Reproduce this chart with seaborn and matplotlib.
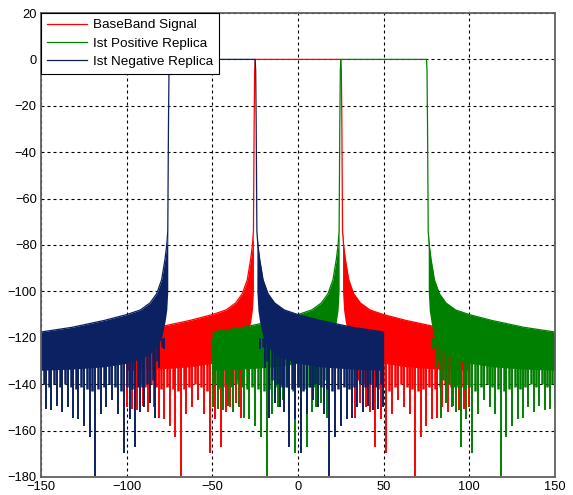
import numpy as np
import matplotlib
matplotlib.use("Agg")
import matplotlib.pyplot as plt
import seaborn as sns

# one-sided baseband spectrum (offset from band centre, dB)
offset = [25.0, 25.3, 25.6, 26.0, 26.6, 27.6, 29.6, 32.5, 36.4, 42.0, 50.0, 63.0, 82.0, 100.0]
top_db = [0, -5, -28, -74, -80, -86, -95, -101, -105, -108, -110, -112.5, -115.5, -117.5]
floor_db = [0, -5, -28, -100, -108, -113, -120, -124, -127, -129, -131, -132.5, -133.5, -134]

# deep nulls below the dense band (offset, dB)
null_offset = [28.1, 30.9, 33.3, 36.4, 39.7, 42.0, 45.0, 48.3, 51.5, 55.0, 58.6, 61.9,
               65.2, 68.3, 71.6, 74.9, 78.4, 81.3, 84.2, 87.7, 90.7, 94.0, 96.9, 99.8]
null_db = [-125, -133, -154.7, -148, -149.7, -152, -167, -155, -169.5, -153, -146.8, -149.7,
           -153, -179.4, -162.9, -158, -155, -154.4, -149.7, -152, -149.5, -151, -150.5, -149.7]

# shallower ripples between the deep nulls
ripple_offset = [29.5, 32.1, 34.8, 38.0, 40.8, 43.5, 46.6, 49.9, 53.2, 56.8, 60.2, 63.5,
                 66.7, 70.0, 73.2, 76.6, 79.8, 82.7, 86.0, 89.2, 92.3, 95.4, 98.3]
ripple_db = [-124, -130, -138, -140, -141, -141, -142, -141, -143, -141, -140, -141,
             -142, -143, -142, -141, -142, -141, -140, -141, -140, -141, -140]

signals = ['BaseBand Signal', 'Ist Positive Replica', 'Ist Negative Replica']
centres = [0, 50, -50]
colors = ['#ff0000', '#008000', '#0b2161']

plt.rcParams['font.family'] = ['Liberation Sans', 'DejaVu Sans']
plt.rcParams['font.size'] = 9.3

fig = plt.figure(figsize=(5.73, 4.95), dpi=100)
ax = fig.add_axes([41 / 573, 18 / 495, 514 / 573, 464 / 495])

d = np.array(offset)
top = np.array(top_db)
flo = np.array(floor_db)
nd = np.array(null_offset)
rd = np.array(ripple_offset)

for i, (name, c, col) in enumerate(zip(signals, centres, colors)):
    z = 2 + i
    x = np.concatenate([c - d[::-1], c + d])
    y = np.concatenate([top[::-1], top])
    # dense oscillating skirt
    skirt = d >= 26.0
    ax.fill_between(c - d[skirt], flo[skirt], top[skirt], color=col, lw=0, zorder=z)
    ax.fill_between(c + d[skirt], flo[skirt], top[skirt], color=col, lw=0, zorder=z)
    ax.vlines(np.concatenate([c - rd, c + rd]), np.concatenate([ripple_db, ripple_db]),
              -120, color=col, lw=1.8, zorder=z)
    ax.vlines(np.concatenate([c - nd, c + nd]), np.concatenate([null_db, null_db]),
              -120, color=col, lw=1.4, zorder=z)
    sns.lineplot(x=x, y=y, color=col, lw=0.9, label=name, sort=False,
                 estimator=None, ax=ax, zorder=z)

ax.set_xlim(-150, 150)
ax.set_ylim(-180, 20)
ax.set_xticks(range(-150, 151, 50))
ax.set_yticks(range(-180, 21, 20))
ax.grid(True, color='black', linestyle=(0, (2.7, 2.7)), linewidth=0.8)
for gl in ax.get_xgridlines() + ax.get_ygridlines():
    gl.set_zorder(6)
ax.tick_params(length=0, pad=3, labelsize=9.3)
for sp in ax.spines.values():
    sp.set_color('#606060')
    sp.set_linewidth(1.3)
    sp.set_zorder(7)

leg = ax.legend(loc='upper left', bbox_to_anchor=(0, 1), borderaxespad=0,
                fancybox=False, framealpha=1, edgecolor='black', fontsize=9.7,
                handlelength=3.0, handletextpad=0.4, labelspacing=0.42, borderpad=0.45)
leg.get_frame().set_linewidth(0.8)
leg.set_zorder(10)

fig.savefig('out.png', dpi=100)
